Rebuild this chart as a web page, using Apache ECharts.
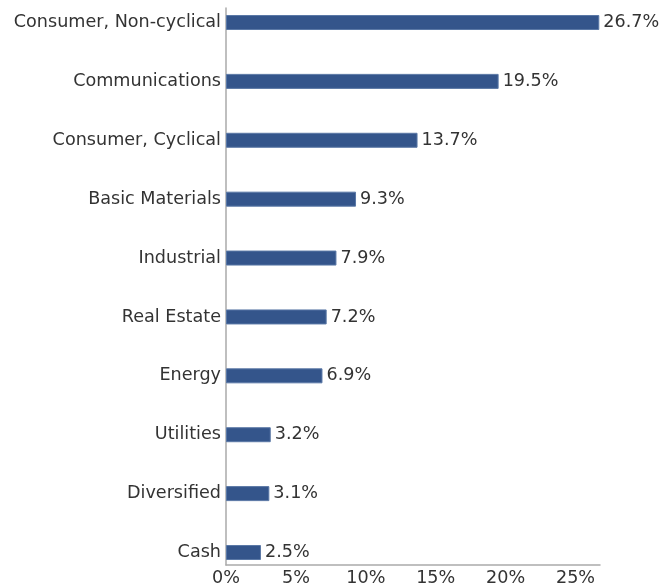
<!DOCTYPE html>
<html>
<head>
<meta charset="utf-8">
<script src="https://cdn.jsdelivr.net/npm/echarts@6/dist/echarts.min.js"></script>
<style>
  html, body { margin: 0; padding: 0; background: #fff; }
  #chart { width: 671px; height: 583px; }
</style>
</head>
<body>
<div id="chart"></div>
<script>
// 数据（从下到上）
const categories = ["Cash", "Diversified", "Utilities", "Energy", "Real Estate",
  "Industrial", "Basic Materials", "Consumer, Cyclical", "Communications", "Consumer, Non-cyclical"];
const weights = [2.5, 3.1, 3.2, 6.9, 7.2, 7.9, 9.3, 13.7, 19.5, 26.7];
const xTicks = [0, 5, 10, 15, 20, 25];

const font = "'DejaVu Sans', sans-serif";
const fontSize = 17.6;
const textColor = "#333333";
const axisColor = "#aaaaaa";
const xMax = 26.75;

const chart = echarts.init(document.getElementById("chart"));

const option = {
  animation: false,
  textStyle: { fontFamily: font },
  grid: [
    // 柱子所在的网格
    { left: 226, right: 71, top: 22.5, bottom: 30.5, outerBoundsMode: "none" },
    // 只画坐标轴线的网格
    { left: 226, right: 71, top: 8, bottom: 18, outerBoundsMode: "none" }
  ],
  xAxis: [
    {
      gridIndex: 0, type: "value", min: 0, max: xMax,
      show: false
    },
    {
      gridIndex: 1, type: "value", min: 0, max: xMax, interval: 5,
      axisLine: { show: true, lineStyle: { color: axisColor, width: 1.5 } },
      axisTick: { show: false },
      splitLine: { show: false },
      axisLabel: {
        margin: 4, fontSize: fontSize, color: textColor, fontFamily: font,
        showMaxLabel: false,
        formatter: v => xTicks.includes(v) ? v + "%" : ""
      }
    }
  ],
  yAxis: [
    {
      gridIndex: 0, type: "category", data: categories, boundaryGap: false,
      axisLine: { show: false },
      axisTick: { show: false },
      axisLabel: { margin: 5, fontSize: fontSize, color: textColor, fontFamily: font }
    },
    {
      gridIndex: 1, type: "value", min: 0, max: 1,
      axisLine: { show: true, lineStyle: { color: axisColor, width: 1.5 } },
      axisTick: { show: false },
      axisLabel: { show: false },
      splitLine: { show: false }
    }
  ],
  series: [
    {
      type: "bar",
      xAxisIndex: 0,
      yAxisIndex: 0,
      data: weights,
      barWidth: 15,
      itemStyle: { color: "#34558b", borderColor: "#5a78a6", borderWidth: 1 },
      label: {
        show: true, position: "right", distance: 4,
        fontSize: fontSize, color: textColor, fontFamily: font,
        formatter: p => p.value.toFixed(1) + "%"
      }
    }
  ]
};

chart.setOption(option);
</script>
</body>
</html>
